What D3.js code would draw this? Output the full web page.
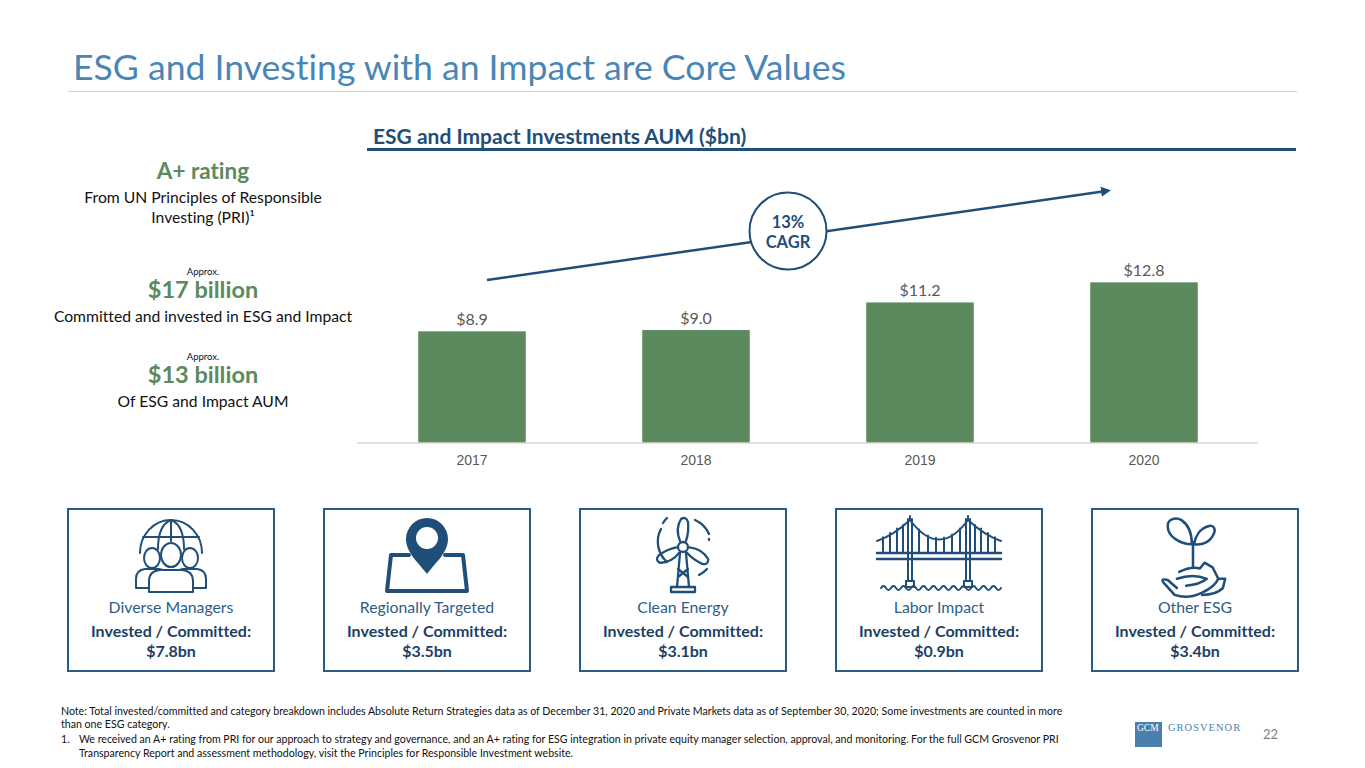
<!DOCTYPE html>
<html>
<head>
<meta charset="utf-8">
<script src="https://cdn.jsdelivr.net/npm/d3@7"></script>
<style>
  html, body { margin: 0; padding: 0; background: #fff; }
  svg { display: block; font-family: Lato, "Open Sans", sans-serif; font-variant-ligatures: none; }
</style>
</head>
<body>
<svg id="slide" width="1365" height="768"></svg>
<script>
// chart data
const years = ["2017", "2018", "2019", "2020"]
const aum = [8.9, 9.0, 11.2, 12.8]
const cagrLabel = ["13%", "CAGR"]

// left hand stats
const statHeads = ["A+ rating", "$17 billion", "$13 billion"]
const statPrefix = ["", "Approx.", "Approx."]
const statLines = [
  ["From UN Principles of Responsible", "Investing (PRI)\u00b9"],
  ["Committed and invested in ESG and Impact"],
  ["Of ESG and Impact AUM"]
]

// category boxes
const categories = ["Diverse Managers", "Regionally Targeted", "Clean Energy", "Labor Impact", "Other ESG"]
const committed = [7.8, 3.5, 3.1, 0.9, 3.4]

const footnotes = [
  "Note: Total invested/committed and category breakdown includes Absolute Return Strategies data as of December 31, 2020 and Private Markets data as of September 30, 2020; Some investments are counted in more",
  "than one ESG category.",
  "We received an A+ rating from PRI for our approach to strategy and governance, and an A+ rating for ESG integration in private equity manager selection, approval, and monitoring. For the full GCM Grosvenor PRI",
  "Transparency Report and assessment methodology, visit the Principles for Responsible Investment website."
]

const NAVY = "#1f4e79"
const GREEN = "#5b8a5e"
const svg = d3.select("#slide")

// page title + rule
svg.append("text")
  .attr("x", 73).attr("y", 80)
  .attr("font-size", 35.6)
  .attr("fill", "#4a86b4")
  .text("ESG and Investing with an Impact are Core Values")
svg.append("line")
  .attr("x1", 68).attr("x2", 1297).attr("y1", 91.5).attr("y2", 91.5)
  .attr("stroke", "#d0d0d0").attr("stroke-width", 1)

// left stats, centered on x=203
const statsG = svg.append("g").attr("text-anchor", "middle")
const headY = [179, 298, 383]
statHeads.forEach((h, i) => {
  if (statPrefix[i]) {
    statsG.append("text")
      .attr("x", 203).attr("y", headY[i] - 23)
      .attr("font-size", 9.5).attr("fill", "#111")
      .text(statPrefix[i])
  }
  statsG.append("text")
    .attr("x", 203).attr("y", headY[i])
    .attr("font-size", i === 0 ? 22.5 : 23.5).attr("font-weight", "bold")
    .attr("fill", GREEN)
    .text(h)
  statLines[i].forEach((l, j) => {
    statsG.append("text")
      .attr("x", 203).attr("y", headY[i] + 23.5 + j * 20)
      .attr("font-size", 15.7).attr("fill", "#111")
      .text(l)
  })
})

// bar chart title
svg.append("text")
  .attr("x", 373).attr("y", 144)
  .attr("font-size", 21).attr("font-weight", "bold")
  .attr("fill", NAVY)
  .text("ESG and Impact Investments AUM ($bn)")
svg.append("line")
  .attr("x1", 367).attr("x2", 1296).attr("y1", 149.5).attr("y2", 149.5)
  .attr("stroke", NAVY).attr("stroke-width", 3)

// scales
const x = d3.scaleBand()
  .domain(years)
  .range([360, 1256])
  .paddingInner(0.52)
  .paddingOuter(0.26)
const y = d3.scaleLinear()
  .domain([0, 14])
  .range([443, 443 - 14 * 12.55])

const chart = svg.append("g")

chart.selectAll("rect.bar")
  .data(aum)
  .enter().append("rect")
  .attr("class", "bar")
  .attr("x", (d, i) => x(years[i]))
  .attr("width", x.bandwidth())
  .attr("y", d => y(d))
  .attr("height", d => y(0) - y(d))
  .attr("fill", GREEN)

chart.selectAll("text.val")
  .data(aum)
  .enter().append("text")
  .attr("class", "val")
  .attr("text-anchor", "middle")
  .attr("x", (d, i) => x(years[i]) + x.bandwidth() / 2)
  .attr("y", d => y(d) - 6)
  .attr("font-size", 16)
  .attr("fill", "#595959")
  .text(d => "$" + d3.format(".1f")(d))

// x axis
const xAxis = chart.append("g")
  .attr("transform", `translate(0,${y(0)})`)
  .call(d3.axisBottom(x).tickSize(0).tickPadding(12))
xAxis.select(".domain")
  .attr("d", "M-3,0H898")
  .attr("transform", "translate(360,0)")
  .attr("stroke", "#d9d9d9").attr("stroke-width", 1.5)
xAxis.selectAll("text")
  .attr("font-family", "'Liberation Sans', Arial, sans-serif")
  .attr("font-size", 14)
  .attr("fill", "#595959")

// CAGR arrow
const defs = svg.append("defs")
defs.append("marker")
  .attr("id", "arrowhead")
  .attr("viewBox", "0 0 10 10")
  .attr("refX", 5).attr("refY", 5)
  .attr("markerWidth", 4).attr("markerHeight", 4)
  .attr("orient", "auto")
  .append("path")
  .attr("d", "M0,0L10,5L0,10z")
  .attr("fill", NAVY)

svg.append("line")
  .attr("x1", 487).attr("y1", 280)
  .attr("x2", 1106).attr("y2", 191)
  .attr("stroke", NAVY).attr("stroke-width", 2.5)
  .attr("marker-end", "url(#arrowhead)")
svg.append("circle")
  .attr("cx", 788).attr("cy", 231).attr("r", 38.5)
  .attr("fill", "#fff").attr("stroke", NAVY).attr("stroke-width", 2)
cagrLabel.forEach((t, i) => {
  svg.append("text")
    .attr("x", 788).attr("y", 228 + i * 20)
    .attr("text-anchor", "middle")
    .attr("font-size", 16.5).attr("font-weight", "bold")
    .attr("fill", NAVY)
    .text(t)
})

// category boxes
const boxX = d3.scalePoint()
  .domain(categories)
  .range([68, 1092])
const boxW = 206

const boxes = svg.selectAll("g.box")
  .data(categories)
  .enter().append("g")
  .attr("class", "box")
  .attr("transform", d => `translate(${boxX(d)},509)`)

boxes.append("rect")
  .attr("x", 0).attr("y", 0)
  .attr("width", boxW).attr("height", 162)
  .attr("fill", "none")
  .attr("stroke", "#2a5a85").attr("stroke-width", 2)

boxes.append("text")
  .attr("x", boxW / 2).attr("y", 104)
  .attr("text-anchor", "middle")
  .attr("font-size", 15.8).attr("fill", "#2e5d88")
  .text(d => d)
boxes.append("text")
  .attr("x", boxW / 2).attr("y", 128)
  .attr("text-anchor", "middle")
  .attr("font-size", 16).attr("font-weight", "bold").attr("fill", "#1d3f66")
  .text("Invested / Committed:")
boxes.append("text")
  .attr("x", boxW / 2).attr("y", 148)
  .attr("text-anchor", "middle")
  .attr("font-size", 16).attr("font-weight", "bold").attr("fill", "#1d3f66")
  .text((d, i) => "$" + d3.format(".1f")(committed[i]) + "bn")

// icons, each drawn around (boxW/2, 8) of its box
const icon = (i) => svg.append("g")
  .attr("transform", `translate(${boxX(categories[i]) + boxW / 2},517)`)
  .attr("fill", "none").attr("stroke", NAVY)
  .attr("stroke-linecap", "round").attr("stroke-linejoin", "round")

// 1. people under a globe
{
  const g = icon(0).attr("stroke-width", 2)
  g.append("path").attr("d", "M-31,36 A31,33 0 0 1 31,36")
  g.append("path").attr("d", "M-13,32 Q-13,8 0,3 Q13,8 13,32")
  g.append("path").attr("d", "M0,3 V24")
  g.append("path").attr("d", "M-28,20 H28")
  // side people
  ;[-19, 19].forEach(dx => {
    g.append("path").attr("fill", "#fff")
      .attr("d", `M${dx - 16},71 V62 Q${dx - 16},53 ${dx - 7},52 L${dx + 7},52 Q${dx + 16},53 ${dx + 16},62 V71 Z`)
    g.append("ellipse").attr("fill", "#fff")
      .attr("cx", dx).attr("cy", 41).attr("rx", 8).attr("ry", 10)
  })
  g.append("path").attr("fill", "#fff")
    .attr("d", "M-22,75 V64 Q-22,54 -11,53 L11,53 Q22,54 22,64 V75 Z")
  g.append("ellipse").attr("fill", "#fff")
    .attr("cx", 0).attr("cy", 38).attr("rx", 10).attr("ry", 12)
}

// 2. map pin
{
  const g = icon(1)
  g.append("path").attr("stroke-width", 4)
    .attr("d", "M-18,38 H-36 L-40,74 H40 L36,38 H18")
  g.append("path").attr("fill", NAVY).attr("stroke", "none")
    .attr("d", "M0,57 C-8,46 -21,36 -21,22 A21,21 0 1 1 21,22 C21,36 8,46 0,57 Z")
  g.append("circle").attr("fill", "#fff").attr("stroke", "none")
    .attr("cx", 0).attr("cy", 21).attr("r", 11)
}

// 3. wind turbine
{
  const g = icon(2).attr("stroke-width", 2.3)
  const hub = g.append("g").attr("transform", "translate(0,30)")
  ;[0, 120, 240].forEach(a => {
    hub.append("path")
      .attr("transform", `rotate(${a})`)
      .attr("d", "M-3,-6 Q-8,-18 -2,-28 Q3,-31 5,-25 Q6,-15 3,-6")
  })
  hub.append("circle").attr("r", 5).attr("fill", "#fff")
  g.append("path").attr("d", "M-3,36 L-6,70 M3,36 L6,70 M-5,52 L5,60 M5,52 L-5,60")
  g.append("path").attr("d", "M-12,70 H12 V75 H-12 Z")
  // motion arcs
  g.append("path").attr("d", "M-16,45 A27,27 0 0 1 -22,12")
  g.append("path").attr("d", "M-20,6 A27,27 0 0 1 -16,1")
  g.append("path").attr("d", "M12,3 A27,27 0 0 1 26,17")
  g.append("path").attr("d", "M26,22 L26,23 M16,58 A27,27 0 0 0 24,52")
}

// 4. suspension bridge
{
  const g = icon(3).attr("stroke-width", 2)
  ;[-29, 29].forEach(tx => {
    g.append("path").attr("d", `M${tx - 2},2 V64 M${tx + 2},2 V64 M${tx},-1 V2`)
    g.append("path").attr("d", `M${tx - 4},64 H${tx + 4} V70 H${tx - 4} Z`)
  })
  g.append("path").attr("stroke-width", 2.5).attr("d", "M-62,36 H62 M-62,42 H62")
  g.append("path").attr("d", "M-62,24 Q-45,18 -29,3 Q0,42 29,3 Q45,18 62,24")
  ;[-56, -49, -42, -36].forEach(vx => {
    const cy = 24 - (vx + 62) * 0.62
    g.append("path").attr("d", `M${vx},${Math.max(cy, 6)} V36`)
  })
  ;[-20, -11, -3, 5, 13, 21, 36, 42, 49, 56].forEach(vx => {
    let cy
    if (Math.abs(vx) < 29) cy = 3 + (1 - (vx / 29) * (vx / 29)) * 18
    else cy = 24 - (62 - Math.abs(vx)) * 0.62
    g.append("path").attr("d", `M${vx},${cy} V36`)
  })
  let wave = "M-58,71"
  for (let wx = -58; wx < 58; wx += 10) wave += ` q2.5,-4 5,0 q2.5,4 5,0`
  g.append("path").attr("d", wave)
}

// 5. seedling in a hand
{
  const g = icon(4).attr("stroke-width", 2.2)
    .append("g").attr("transform", "translate(-2,2) scale(1.15)")
  g.append("path").attr("d", "M0,42 V20")
  g.append("path").attr("d", "M-1,22 C-10,22 -22,16 -22,6 C-22,0 -15,-2 -10,1 C-4,5 -1,13 -1,22 Z")
  g.append("path").attr("d", "M1,22 C2,15 6,8 14,6 C18,5 20,9 18,13 C15,20 8,23 1,22 Z")
  g.append("path").attr("d", "M-12,46 Q-2,41 6,43 L10,38 L17,42 L22,52 Q19,59 8,64 Q-4,70 -16,66 L-24,57 Q-30,51 -22,53 L-14,60")
  g.append("path").attr("d", "M-14,52 Q0,47 12,52 Q6,57 -6,58")
  g.append("path").attr("d", "M22,52 H28 L26,60 Q20,66 8,66")
}

// footnotes
const fn = svg.append("g").attr("font-size", 10.6).attr("fill", "#111")
const fnY = [715, 728, 743, 757]
footnotes.forEach((t, i) => {
  fn.append("text")
    .attr("x", i >= 2 ? 79 : 61).attr("y", fnY[i])
    .text(t)
})
fn.append("text").attr("x", 61).attr("y", fnY[2]).text("1.")

// logo + page number
svg.append("rect")
  .attr("x", 1135).attr("y", 722).attr("width", 27).attr("height", 25)
  .attr("fill", "#4a7fae")
svg.append("text")
  .attr("x", 1137).attr("y", 731)
  .attr("font-family", "'Liberation Serif', serif")
  .attr("font-size", 9.5).attr("fill", "#fff")
  .text("GCM")
svg.append("text")
  .attr("x", 1168).attr("y", 731)
  .attr("font-family", "'Liberation Serif', serif")
  .attr("font-size", 10.5).attr("letter-spacing", 1)
  .attr("fill", "#4a7fae")
  .text("GROSVENOR")
svg.append("text")
  .attr("x", 1263).attr("y", 739)
  .attr("font-size", 13).attr("fill", "#7f7f7f")
  .text("22")
</script>
</body>
</html>
